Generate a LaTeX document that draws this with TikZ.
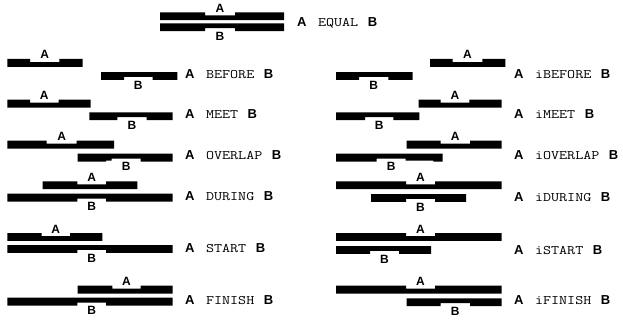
\documentclass[tikz,border=0pt]{standalone}
\usepackage{graphicx}
\usepackage{fontspec}
\setmainfont{Liberation Sans}
\newcommand{\Abar}[5]{% x1,x2,ytop,n1,n2 : notch on top
  \fill (#1,#3) -- (#4,#3) -- (#4,#3+3) -- (#5,#3+3) -- (#5,#3) -- (#2,#3) -- (#2,#3+7.8) -- (#1,#3+7.8) -- cycle;}
\newcommand{\Bbar}[5]{% x1,x2,ytop,n1,n2 : notch on bottom
  \fill (#1,#3) -- (#2,#3) -- (#2,#3+7.8) -- (#5,#3+7.8) -- (#5,#3+4.8) -- (#4,#3+4.8) -- (#4,#3+7.8) -- (#1,#3+7.8) -- cycle;}
\tikzset{
  alab/.style={anchor=base,inner sep=0pt,font=\fontsize{12}{13}\selectfont\bfseries},
  blab/.style={anchor=north,inner sep=0pt,font=\fontsize{12}{13}\selectfont\bfseries},
  rel/.style={anchor=base west,inner sep=0pt,font=\fontsize{13}{14}\selectfont}
}
\newcommand{\rl}[1]{\textbf{A}\hspace{11.5pt}\scalebox{1.2}[1]{\ttfamily\fontsize{13}{15}\selectfont #1}\hspace{9.5pt}\textbf{B}}
\begin{document}
\begin{tikzpicture}[x=1pt,y=-1pt]
\useasboundingbox (0,0) rectangle (623,321);
% EQUAL
\Abar{160}{284}{12.4}{205}{235}
\Bbar{160}{284}{23.4}{205}{235}
\node[alab] (eqA) at (220,12.4) {A};
\node[blab] (eqB) at (220,32) {B};
\node[rel] (eq) at (297,26.2) {\rl{EQUAL}};
% BEFORE
\Abar{7.3}{82.7}{59}{30}{59.3}
\Bbar{101}{177.3}{72}{124}{152.7}
\node[alab] (beA) at (44.7,59) {A};
\node[blab] (beB) at (138.3,80.6) {B};
\node[rel] (be) at (185,78) {\rl{BEFORE}};
% MEET
\Abar{7.3}{90.7}{99.7}{30}{58.7}
\Bbar{89.3}{172.7}{112.4}{117.3}{146.7}
\node[alab] (meA) at (44.3,99.7) {A};
\node[blab] (meB) at (132,121) {B};
\node[rel] (me) at (185,118.7) {\rl{MEET}};
% OVERLAP
\Abar{7.3}{114}{140.7}{46.7}{76.7}
\fill (77.7,153.7) -- (172.7,153.7) -- (172.7,161.5) -- (140.7,161.5) -- (140.7,158.5) -- (111.7,158.5) -- (111.7,160.5) -- (106,160.5) -- (106,161.5) -- (77.7,161.5) -- cycle;
\node[alab] (ovA) at (61.7,140.7) {A};
\node[blab] (ovB) at (126.2,162.5) {B};
\node[rel] (ov) at (185,159.7) {\rl{OVERLAP}};
% DURING
\Abar{42.7}{137.3}{181.4}{77.3}{106}
\Bbar{7.3}{172.7}{193.7}{77.3}{106}
\node[alab] (duA) at (91.7,181.4) {A};
\node[blab] (duB) at (91.7,202.3) {B};
\node[rel] (du) at (185,200.7) {\rl{DURING}};
% START
\Abar{7.3}{102.3}{233}{41.7}{70}
\Bbar{7.3}{172.7}{245}{77.3}{106}
\node[alab] (stA) at (55.8,233) {A};
\node[blab] (stB) at (91.7,253.8) {B};
\node[rel] (st) at (185,252.4) {\rl{START}};
% FINISH
\Abar{77.7}{172.7}{285.7}{112.3}{140.7}
\Bbar{7.3}{172.7}{297.7}{77.3}{106}
\node[alab] (fiA) at (126.5,285.7) {A};
\node[blab] (fiB) at (91.7,306.3) {B};
\node[rel] (fi) at (185,304.7) {\rl{FINISH}};
% iBEFORE
\Abar{430}{505.3}{59}{452.7}{482.3}
\Bbar{336}{412.7}{72}{359}{388.3}
\node[alab] (ibA) at (467.5,59) {A};
\node[blab] (ibB) at (373.7,80.6) {B};
\node[rel] (ib) at (514,78) {\rl{iBEFORE}};
% iMEET
\Abar{418.7}{501.7}{99.7}{440.7}{469.3}
\Bbar{336}{419.3}{112.4}{365}{393.3}
\node[alab] (imA) at (455,99.7) {A};
\node[blab] (imB) at (379.2,121) {B};
\node[rel] (im) at (514,118.7) {\rl{iMEET}};
% iOVERLAP
\Abar{406.7}{501.7}{140.7}{440.7}{470}
\fill (336,153.7) -- (442.7,153.7) -- (442.7,161.5) -- (433.3,161.5) -- (433.3,160.5) -- (405.5,160.5) -- (405.5,158.5) -- (376.7,158.5) -- (376.7,161.5) -- (336,161.5) -- cycle;
\node[alab] (ioA) at (455.3,140.7) {A};
\node[blab] (ioB) at (391.2,162.5) {B};
\node[rel] (io) at (514,159.7) {\rl{iOVERLAP}};
% iDURING
\Abar{336}{501.7}{181.4}{406}{435}
\Bbar{371}{466}{194}{406}{435}
\node[alab] (idA) at (420.5,181.4) {A};
\node[blab] (idB) at (420.5,202.6) {B};
\node[rel] (id) at (514,201.4) {\rl{iDURING}};
% iSTART
\Abar{336}{501.7}{233}{406}{435}
\Bbar{336}{431}{246}{370}{399}
\node[alab] (isA) at (420.5,233) {A};
\node[blab] (isB) at (384.5,254.6) {B};
\node[rel] (is) at (514,254.7) {\rl{iSTART}};
% iFINISH
\Abar{336}{501.7}{285.7}{406}{435}
\Bbar{406.7}{501.7}{298.4}{440.7}{470}
\node[alab] (ifA) at (420.5,285.7) {A};
\node[blab] (ifB) at (455.3,307) {B};
\node[rel] (if) at (514,304.7) {\rl{iFINISH}};
\end{tikzpicture}
\end{document}
